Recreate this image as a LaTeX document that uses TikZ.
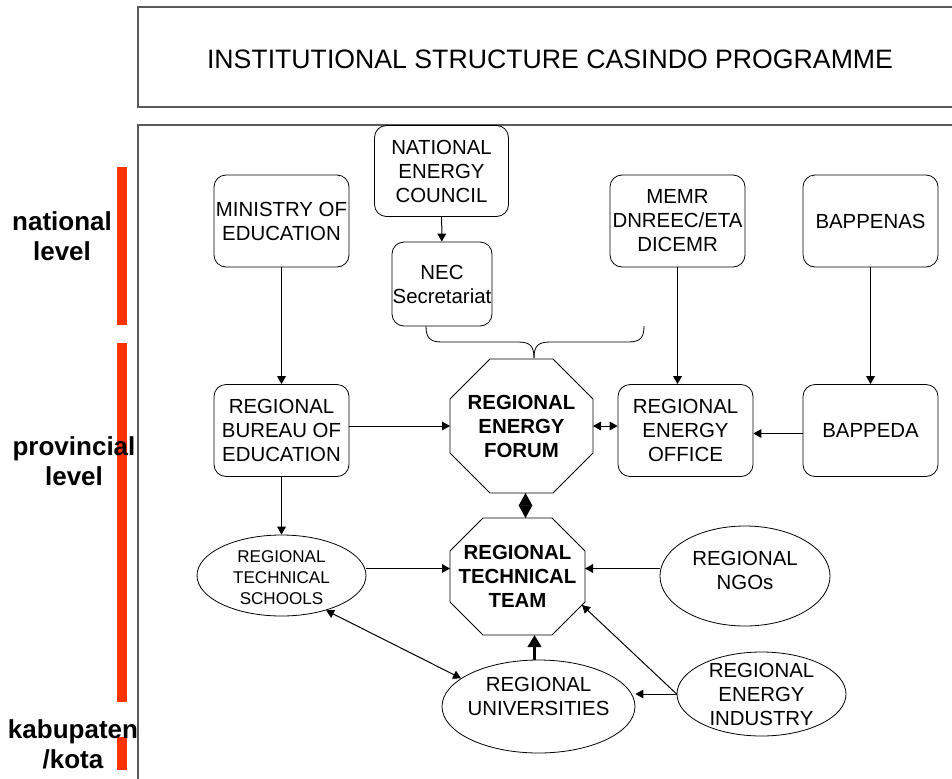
\documentclass[tikz,border=0pt]{standalone}
\usepackage{fontspec}
\setmainfont{Liberation Sans}
\usetikzlibrary{arrows.meta,calc,shapes.geometric}

\definecolor{levelred}{RGB}{255,51,0}
\definecolor{framegray}{RGB}{90,90,90}

\newcommand\boxfont{\fontsize{15.3}{18}\selectfont}
\newcommand\smallboxfont{\fontsize{12.8}{15.6}\selectfont}
\newcommand\lvlfont{\bfseries\fontsize{19.5}{22.5}\selectfont}

% octagon round a plain rectangle node: #1 node, #2 corner cut
\newcommand\drawoct[2]{%
  \draw[line width=0.6pt] ($(#1.north west)+(#2,0)$) -- ($(#1.north east)+(-#2,0)$) -- ($(#1.north east)+(0,#2)$) -- ($(#1.south east)+(0,-#2)$) -- ($(#1.south east)+(-#2,0)$) -- ($(#1.south west)+(#2,0)$) -- ($(#1.south west)+(0,-#2)$) -- ($(#1.north west)+(0,#2)$) -- cycle ;}

\tikzset{
  instbox/.style={draw, rounded corners=9pt, line width=0.6pt, minimum width=101.25pt, minimum height=69pt, inner sep=0pt, align=center, font=\boxfont},
  octbox/.style={rectangle, inner sep=0pt, outer sep=0pt, align=center, font=\bfseries\boxfont},
  ellbox/.style={ellipse, draw, line width=0.6pt, inner sep=0pt},
  elltext/.style={inner sep=0pt, align=center, font=\boxfont},
  lvltext/.style={align=center, inner sep=0pt, font=\lvlfont},
  arr/.style={line width=0.75pt, -{Triangle[length=6pt,width=6.5pt]}},
  dblarr/.style={line width=0.75pt, {Triangle[length=6pt,width=6.5pt]}-{Triangle[length=6pt,width=6.5pt]}},
  diamarr/.style={line width=0.75pt, {Triangle[length=9.4pt,width=10pt]}-{Triangle[length=9.4pt,width=10pt]}},
  thickarr/.style={line width=2.6pt, -{Triangle[length=9pt,width=10pt]}}
}

\begin{document}
\begin{tikzpicture}[x=0.75pt,y=0.75pt,yscale=-1]
\useasboundingbox (0,0) rectangle (952,778);

%Shape: Rectangle (title)
\draw[framegray, line width=0.8pt] (960,7) -- (138,7) -- (138,107) -- (960,107) ;
%Shape: Rectangle (frame)
\draw[framegray, line width=0.8pt] (960,125) -- (138,125) -- (138,790) ;
%Shape: level bars
\fill[levelred] (117,167) rectangle (127,325) ;
\fill[levelred] (117,343) rectangle (127,702) ;
\fill[levelred] (117,737) rectangle (127,770) ;

% Text Node
\node[font=\fontsize{20}{24}\selectfont, inner sep=0pt] (ttl) at (550,59) {INSTITUTIONAL STRUCTURE CASINDO PROGRAMME};
% Text Node
\node[lvltext] (lnat) at (62,236) {national\\level};
% Text Node
\node[lvltext] (lprov) at (74,461) {provincial\\level};
% Text Node
\node[lvltext] (lkab) at (73,744) {kabupaten\\/kota};

%Rounded Rect: national level
\node[instbox] (min) at (281.5,221) {MINISTRY OF\\EDUCATION};
\node[instbox, minimum width=100.5pt, minimum height=68.25pt] (nec) at (441.5,171) {NATIONAL\\ENERGY\\COUNCIL};
\node[instbox, minimum width=75pt, minimum height=63pt] (sec) at (442,284) {NEC\\Secretariat};
\node[instbox] (memr) at (677.5,221) {MEMR\\DNREEC/ETA\\DICEMR};
\node[instbox] (bpn) at (870.5,221) {BAPPENAS};
%Rounded Rect: provincial level
\node[instbox] (rbe) at (281.5,430.5) {REGIONAL\\BUREAU OF\\EDUCATION};
\node[instbox] (reo) at (685.5,430.5) {REGIONAL\\ENERGY\\OFFICE};
\node[instbox] (bpd) at (870.5,430.5) {BAPPEDA};

%Shape: Octagons
\node[octbox, minimum width=107.25pt, minimum height=100.5pt] (ref) at (521.5,426) {REGIONAL\\ENERGY\\FORUM};
\drawoct{ref}{40}
\node[octbox, minimum width=101.25pt, minimum height=87.75pt] (rtt) at (517.5,576.5) {REGIONAL\\TECHNICAL\\TEAM};
\drawoct{rtt}{33}

%Shape: Ellipses
\node[ellbox, minimum width=126.75pt, minimum height=60.75pt] (rts) at (281.5,575.5) {};
\node[elltext, font=\smallboxfont] (rts-t) at ($(rts)+(0,2)$) {REGIONAL\\TECHNICAL\\SCHOOLS};
\node[ellbox, minimum width=127.5pt, minimum height=75pt] (ngo) at (745,576) {};
\node[elltext] (ngo-t) at ($(ngo)+(0,-6)$) {REGIONAL\\NGOs};
\node[ellbox, minimum width=144.75pt, minimum height=69.75pt] (uni) at (538.5,706.5) {};
\node[elltext] (uni-t) at ($(uni)+(0,-10)$) {REGIONAL\\UNIVERSITIES};
\node[ellbox, minimum width=126.75pt, minimum height=63pt] (ind) at (761.5,694) {};
\node[elltext] (ind-t) at (ind) {REGIONAL\\ENERGY\\INDUSTRY};

%Shape: brace under the secretariat
\draw[line width=0.6pt] (426,326) .. controls (426,338) and (430,342) .. (442,342) -- (518,342) .. controls (530,342) and (534,346) .. (534,358) ;
\draw[line width=0.6pt] (644,326) .. controls (644,338) and (640,342) .. (628,342) -- (550,342) .. controls (538,342) and (534,346) .. (534,358) ;

%Straight Lines: national to provincial
\draw[arr] (nec) -- (sec) ;
\draw[arr] (min) -- (rbe) ;
\draw[arr] (memr.south) -- (memr.south |- reo.north) ;
\draw[arr] (bpn) -- (bpd) ;
%Straight Lines: provincial row
\draw[arr] (rbe.east |- ref.west) -- (ref.west) ;
\draw[dblarr] (ref.east) -- (ref.east -| reo.west) ;
\draw[arr] ($(bpd.west)+(0,3)$) -- ($(reo.east)+(0,3)$) ;
\coordinate (ref-s) at ($(ref.south)+(4,0)$) ;
\draw[diamarr] (ref-s) -- (ref-s |- rtt.north) ;
%Straight Lines: technical team
\draw[arr] (rbe) -- (rts) ;
\coordinate (rtt-w) at ($(rtt.west)+(0,-8)$) ;
\coordinate (rtt-e) at ($(rtt.east)+(0,-8)$) ;
\draw[arr] (rtt-w -| rts.east) -- (rtt-w) ;
\draw[arr] (rtt-e -| ngo.west) -- (rtt-e) ;
\coordinate (uni-n) at ($(uni.north)+(-4,0)$) ;
\draw[thickarr] (uni-n) -- (uni-n |- rtt.south) ;
\draw[dblarr] (rts.-38) -- (uni.160) ;
\draw[arr] (ind.west) -- ($(rtt.south east)+(-3,-30)$) ;
\draw[arr] (ind.west) -- (ind.west -| uni.east) ;

\end{tikzpicture}
\end{document}
